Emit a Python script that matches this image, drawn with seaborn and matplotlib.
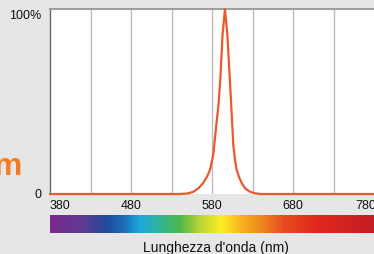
import matplotlib
matplotlib.use("Agg")
import matplotlib.pyplot as plt
import matplotlib.transforms as mtrans
from matplotlib.colors import LinearSegmentedColormap
import numpy as np
import pandas as pd
import seaborn as sns

# ---- data ----
wavelength = [380, 500, 540, 550, 557, 563, 569, 574, 577.5, 581.5, 585, 588, 590.5, 593, 596,
              599, 601.5, 603.5, 606.3, 608.5, 610.5, 613.5, 616.7, 621, 627, 633, 640, 700, 780]
intensity = [0, 0, 0, 0.3, 1.2, 3, 5.9, 9.5, 13, 21, 36, 48, 64, 86, 100,
             86, 66, 50, 26.5, 18, 13, 9, 5.9, 3, 1.2, 0.4, 0, 0, 0]
x_ticks = [380, 480, 580, 680, 780]
y_ticks = [0, 100]
y_tick_labels = ["0", "100%"]
x_label = "Lunghezza d'onda (nm)"
title = "Spettro LED (590 nm)"
side_text = "m"
spec_wl = [380, 420, 450, 470, 490, 515, 540, 565, 592, 615, 640, 670, 710, 780]
spec_col = ["#7b2a8e", "#5e3a95", "#1f4c9c", "#1a6db5", "#1ea8de", "#2fb39a", "#4db848",
            "#b9d433", "#fdee21", "#f8b51e", "#f08a1f", "#e84a1f", "#e0271c", "#c41e25"]

sns.set_theme(style="white")
plt.rcParams['font.family'] = ['Liberation Sans', 'DejaVu Sans']

W, H = 374, 254
fig = plt.figure(figsize=(W / 100, H / 100), dpi=100)
bg = "#e6e6e6"
fig.patch.set_facecolor(bg)

ax = fig.add_axes([50 / W, (H - 194) / H, (W - 50) / W, (194 - 9) / H])
ax.set_facecolor("white")
df = pd.DataFrame({"wl": wavelength, "val": intensity})
sns.lineplot(data=df, x="wl", y="val", ax=ax, color="#e9592c", lw=1.6,
             clip_on=False, zorder=5)
ax.set_xlim(380, 780)
ax.set_ylim(0, 100)
for g in range(430, 780, 50):
    ax.axvline(g, color="#bdbdbd", lw=1.0, zorder=1)
ax.set_xticks(x_ticks)
ax.set_xticklabels([str(t) for t in x_ticks], fontsize=9, color="#111111")
ax.set_yticks(y_ticks)
ax.set_yticklabels(y_tick_labels, fontsize=9, color="#111111")
ax.tick_params(axis="x", length=0, pad=4)
ax.tick_params(axis="y", length=0, pad=6)
ax.set_xlabel("")
ax.set_ylabel("")
for side in ["right", "bottom"]:
    ax.spines[side].set_visible(False)
ax.spines["left"].set_color("#666666")
ax.spines["left"].set_linewidth(1.0)
ax.spines["top"].set_color("#a0a0a0")
ax.spines["top"].set_linewidth(1.5)

xl = ax.get_xticklabels()
xl[0].set_ha("left")
xl[-1].set_transform(xl[-1].get_transform() + mtrans.ScaledTranslation(-8 / 100, 0, fig.dpi_scale_trans))
yl = ax.get_yticklabels()
yl[-1].set_transform(yl[-1].get_transform() + mtrans.ScaledTranslation(0, -6 / 100, fig.dpi_scale_trans))

# spectrum bar
bax = fig.add_axes([50 / W, (H - 233) / H, (W - 50) / W, 18 / H])
pos = [(w - 380) / 400 for w in spec_wl]
cmap = LinearSegmentedColormap.from_list("spec", list(zip(pos, spec_col)))
grad = np.linspace(0, 1, 400)[None, :]
bax.imshow(grad, aspect="auto", cmap=cmap, extent=[380, 780, 0, 1])
bax.set_axis_off()

fig.text(216 / W, (H - 252) / H, x_label, fontsize=10, ha="center", va="baseline", color="#111111")
fig.text(150 / W, 1.0 + 3.5 / H, title, fontsize=11, fontweight="bold", ha="left", va="baseline", color="#111111")
fig.text(22 / W, (H - 175) / H, side_text, fontsize=23, fontweight="bold", ha="right", va="baseline",
         color="#f47b20")

fig.savefig("out.png", dpi=100, facecolor=bg)
